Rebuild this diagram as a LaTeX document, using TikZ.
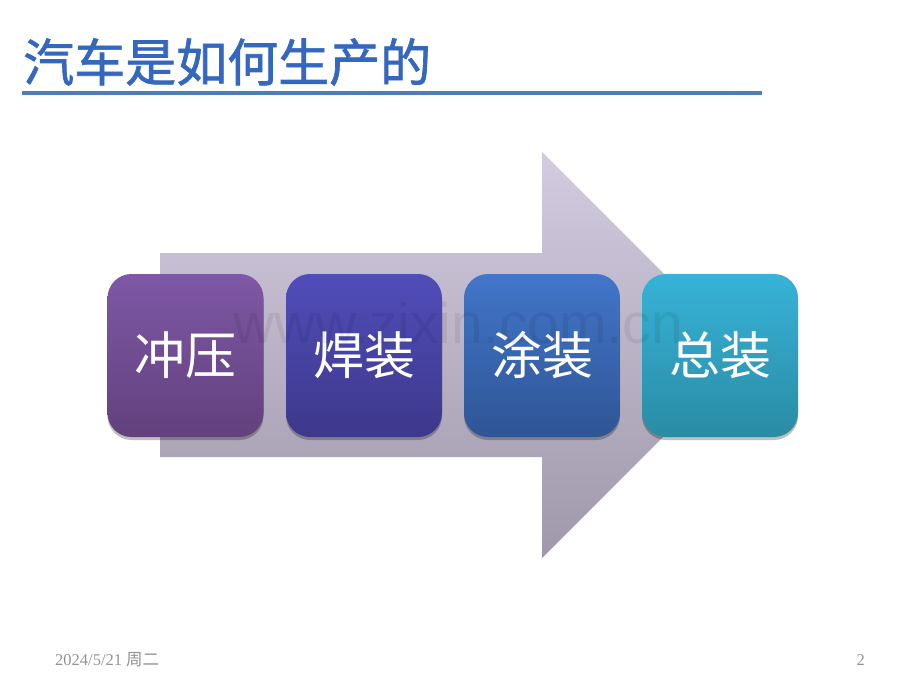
\documentclass[tikz,border=0pt]{standalone}
\usepackage{fontspec}
\newfontfamily\cjk{Noto Sans CJK SC}
\newfontfamily\cjktitle[FakeBold=1.3]{Noto Sans CJK SC}
\newfontfamily\wm{Liberation Sans}
\newfontfamily\ft{Liberation Serif}
\usetikzlibrary{shadows}
\definecolor{arrowtop}{HTML}{D3CCE0}
\definecolor{arrowbot}{HTML}{9E98AA}
\definecolor{titleblue}{HTML}{3467BE}
\definecolor{rulecol}{HTML}{4A7EBB}
\definecolor{aTop}{HTML}{7E58A6}\definecolor{aBot}{HTML}{62417D}
\definecolor{bTop}{HTML}{514DB9}\definecolor{bBot}{HTML}{3D388B}
\definecolor{cTop}{HTML}{4276C9}\definecolor{cBot}{HTML}{2F5596}
\definecolor{dTop}{HTML}{37B2D8}\definecolor{dBot}{HTML}{2A8CA4}
\tikzset{
  stepbox/.style={rounded corners=24pt, minimum width=156pt, minimum height=163pt,
    inner sep=0pt, text=white, font=\cjk\fontsize{51}{51}\selectfont,
    drop shadow={shadow xshift=0pt, shadow yshift=-3pt, opacity=0.25, fill=black}},
  foot/.style={text=gray!85, font=\ft\fontsize{16.5}{16.5}\selectfont, inner sep=0pt}
}
\begin{document}
\begin{tikzpicture}[x=1pt,y=-1pt]
\useasboundingbox (0,0) rectangle (920,690);
\fill[white] (0,0) rectangle (920,690);
% title
\node[anchor=west, inner sep=0pt, text=titleblue, font=\cjktitle\fontsize{51}{51}\selectfont] (title) at (23,62) {汽车是如何生产的};
\fill[rulecol] (22,91) rectangle (762,95.5);
% big arrow
\shade[top color=arrowtop, bottom color=arrowbot] (160,253) -- (542,253) -- (542,152) -- (745,355) -- (542,558) -- (542,457) -- (160,457) -- cycle;
% boxes
\node[stepbox, top color=aTop, bottom color=aBot] (b1) at (185.5,355.5) {冲压};
\node[stepbox, top color=bTop, bottom color=bBot] (b2) at (364,355.5) {焊装};
\node[stepbox, top color=cTop, bottom color=cBot] (b3) at (542,355.5) {涂装};
\node[stepbox, top color=dTop, bottom color=dBot] (b4) at (720,355.5) {总装};
% watermark
\node[anchor=base, inner sep=0pt, text=black, opacity=0.07, font=\wm\fontsize{57}{57}\selectfont] (wmk) at (458,343) {www.zixin.com.cn};
% footer
\node[foot, anchor=base west] (date) at (55,665) {2024/5/21 {\cjk 周二}};
\node[foot, anchor=base east] (page) at (865,665) {2};
\end{tikzpicture}
\end{document}
